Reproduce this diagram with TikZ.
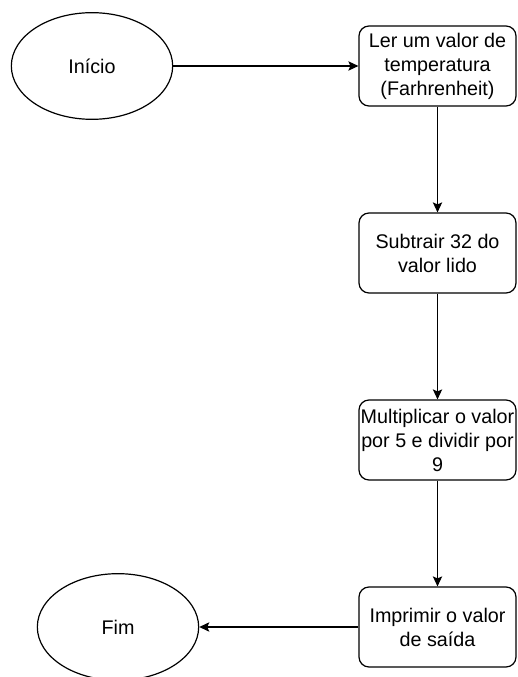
\documentclass[tikz,border=0pt]{standalone}
\usepackage{fontspec}
\setmainfont{Liberation Sans}
\usetikzlibrary{shapes.geometric,arrows.meta}
\begin{document}
\begin{tikzpicture}[x=0.75pt,y=-0.75pt,
  terminal/.style={ellipse, draw, line width=0.9pt, minimum width=121pt,
    minimum height=80pt, inner sep=0pt, font=\fontsize{14.8}{18}\selectfont},
  stepbox/.style={rectangle, rounded corners=7.5pt, draw, line width=0.9pt,
    minimum width=117.75pt, minimum height=60pt, inner sep=0pt, align=center,
    font=\fontsize{14.8}{18}\selectfont},
  flow/.style={-{Stealth[length=7.5pt,width=7pt,inset=1.5pt]}, line width=0.9pt}]
  \useasboundingbox (0,0) rectangle (517,677);

  % start / end terminals
  \node[terminal] (inicio) at (92,66) {Início};
  \node[terminal] (fim) at (118,627) {Fim};

  % processing steps
  \node[stepbox] (ler) at (437.5,66) {Ler um valor de\\temperatura\\(Farhrenheit)};
  \node[stepbox] (sub) at (437.5,253) {Subtrair 32 do\\valor lido};
  \node[stepbox] (mul) at (437.5,440) {Multiplicar o valor\\por 5 e dividir por\\9};
  \node[stepbox] (imp) at (437.5,627) {Imprimir o valor\\de saída};

  % flow
  \draw[flow] (inicio) -- (ler);
  \draw[flow] (ler) -- (sub);
  \draw[flow] (sub) -- (mul);
  \draw[flow] (mul) -- (imp);
  \draw[flow] (imp) -- (fim);
\end{tikzpicture}
\end{document}
